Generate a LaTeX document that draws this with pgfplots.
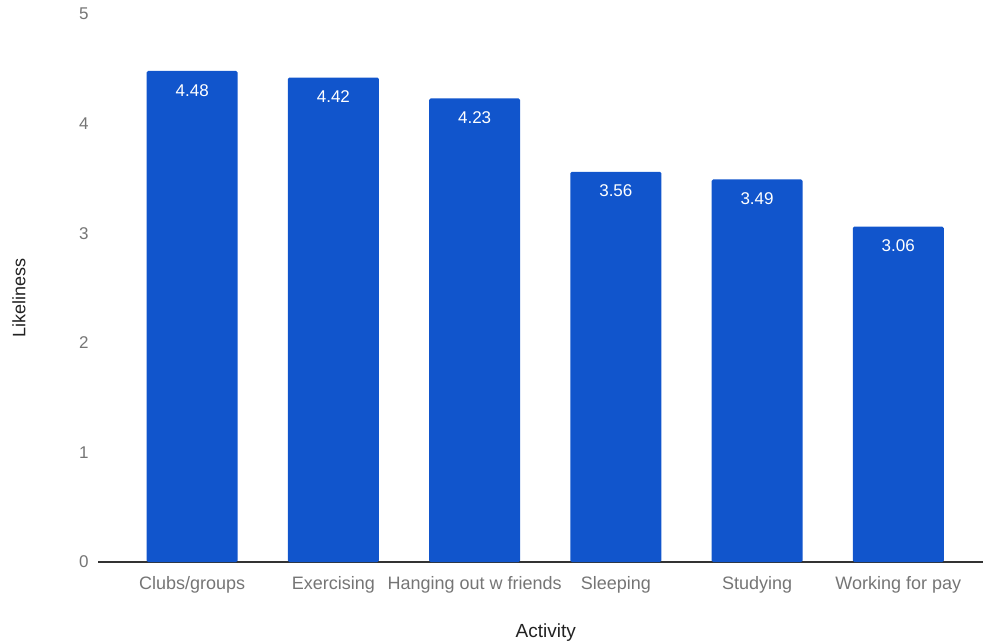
\documentclass[border=0pt]{standalone}
\usepackage{pgfplots}
\pgfplotsset{compat=1.18}
\usepackage{fontspec}
\setmainfont{Liberation Sans}

\definecolor{barblue}{HTML}{1155CC}
\definecolor{ticktext}{HTML}{757575}
\definecolor{titletext}{HTML}{222222}
\definecolor{baseline}{HTML}{333333}

\begin{document}
\begin{tikzpicture}[x=1pt,y=1pt]
\path[use as bounding box] (0,0) rectangle (984,643);
\begin{axis}[
  at={(98pt,81pt)}, anchor=south west,
  scale only axis,
  width=885pt, height=548pt,
  xmin=-0.667, xmax=5.6,
  ymin=0, ymax=5,
  ytick={0,1,2,3,4,5},
  xtick=data,
  xticklabels={Clubs/groups,Exercising,Hanging out w friends,Sleeping,Studying,Working for pay},
  axis x line*=bottom,
  axis y line*=left,
  x axis line style={draw=baseline, line width=1.2pt, -},
  y axis line style={draw=none},
  tick style={draw=none},
  /pgf/number format/assume math mode=true,
  yticklabel style={font=\fontsize{17}{20}\selectfont, text=ticktext, xshift=-6pt},
  xticklabel style={font=\fontsize{18}{21}\selectfont, text=ticktext, yshift=-11pt},
  xlabel={Activity},
  ylabel={Likeliness},
  xlabel style={font=\fontsize{19}{22}\selectfont, text=titletext,
    at={(axis description cs:0.506,-0.1296)}, anchor=center},
  ylabel style={font=\fontsize{18}{21}\selectfont, text=titletext,
    at={(axis description cs:-0.0893,0.482)}, anchor=center},
  clip=false,
]
\addplot[ybar, bar width=91pt, fill=barblue, draw=none, rounded corners=1.5pt,
  nodes near coords,
  point meta=explicit symbolic,
  nodes near coords style={font=\fontsize{17}{20}\selectfont, text=white, anchor=north, inner sep=0pt, yshift=-13pt},
] table[meta=lab] {
x y lab
0 4.48 4.48
1 4.42 4.42
2 4.23 4.23
3 3.56 3.56
4 3.49 3.49
5 3.06 3.06
};
\end{axis}
\end{tikzpicture}
\end{document}
